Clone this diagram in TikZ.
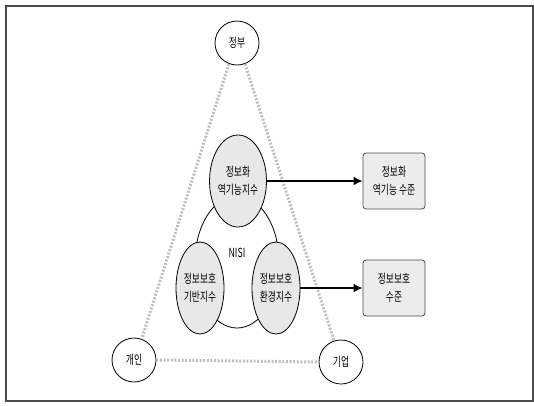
\documentclass[tikz,border=0pt]{standalone}
\usepackage{fontspec}
\newfontfamily\krfont[FakeStretch=0.7]{Noto Sans CJK KR}
\usetikzlibrary{shapes.geometric,arrows.meta}

\begin{document}
\begin{tikzpicture}[x=1pt,y=-1pt,
    every node/.style={font=\krfont\fontsize{12.5}{18}\selectfont, align=center},
    actor/.style={draw, circle, minimum size=44pt, inner sep=0pt, fill=white, line width=0.8pt},
    idx/.style={draw, ellipse, fill=gray!18, minimum width=48pt, minimum height=92pt, inner sep=0pt, line width=0.8pt},
    lvl/.style={draw=black!70, rounded corners=3pt, fill=gray!15, minimum width=62pt, minimum height=56pt, inner sep=0pt, line width=0.8pt},
    rel/.style={gray!50, line width=3pt, dash pattern=on 2pt off 1.6pt},
    res/.style={-{Latex[length=9pt,width=9pt]}, line width=2.5pt}]

    \useasboundingbox (0,0) rectangle (534,405);
    \draw[black!70, line width=1.3pt] (6,6) rectangle (533,401);

    \node[actor] (Gov)   at (237,43)  {정부};
    \node[actor] (Indiv) at (134,360) {개인};
    \node[actor] (Corp)  at (341,362) {기업};

    \draw[rel] (Gov.249)  -- (Indiv.70);
    \draw[rel] (Gov.291)  -- (Corp.108);
    \draw[rel] (Indiv.east) -- (Corp.west);

    \node[draw, ellipse, fill=white, minimum width=84pt, minimum height=132pt, line width=0.8pt] (Nisi) at (237,262) {};
    \node (NisiLbl) at (237,253) {NISI};

    \node[idx] (DysIdx)  at (238,181) {정보화\\역기능지수};
    \node[idx] (BaseIdx) at (200,288) {정보보호\\기반지수};
    \node[idx] (EnvIdx)  at (276,288) {정보보호\\환경지수};

    \node[lvl] (DysLvl)  at (394,181) {정보화\\역기능 수준};
    \node[lvl] (SecLvl)  at (394,288) {정보보호\\수준};

    \draw[res] (DysIdx.east) -- (DysLvl.west);
    \draw[res] (EnvIdx.east) -- (SecLvl.west);
  \end{tikzpicture}
\end{document}
